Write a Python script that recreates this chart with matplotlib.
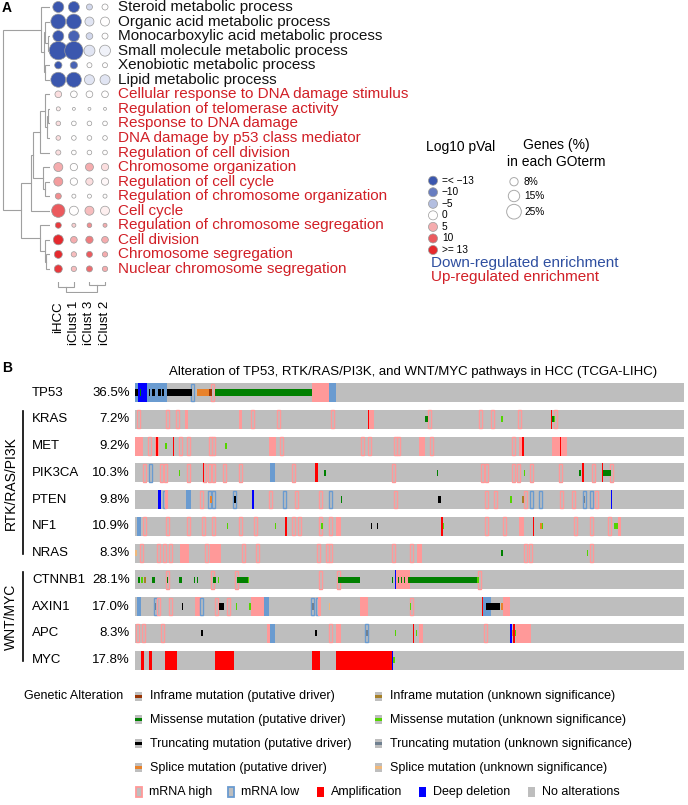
import numpy as np
import matplotlib
matplotlib.use("Agg")
import matplotlib.pyplot as plt
from matplotlib.colors import LinearSegmentedColormap, Normalize
from matplotlib.patches import Rectangle
from matplotlib.transforms import blended_transform_factory

plt.rcParams['font.family'] = ['Liberation Sans', 'DejaVu Sans']

# ------------------------------------------------------------------ Panel A data
go_terms = [
    "Steroid metabolic process", "Organic acid metabolic process",
    "Monocarboxylic acid metabolic process", "Small molecule metabolic process",
    "Xenobiotic metabolic process", "Lipid metabolic process",
    "Cellular response to DNA damage stimulus", "Regulation of telomerase activity",
    "Response to DNA damage", "DNA damage by p53 class mediator",
    "Regulation of cell division", "Chromosome organization",
    "Regulation of cell cycle", "Regulation of chromosome organization",
    "Cell cycle", "Regulation of chromosome segregation", "Cell division",
    "Chromosome segregation", "Nuclear chromosome segregation",
]
go_direction = ["down"] * 6 + ["up"] * 13
clusters = ["iHCC", "iClust 1", "iClust 3", "iClust 2"]

log10_pval = [
    [-13, -13, -3, 0], [-13, -13, -2, 0], [-13, -12, -3, 0], [-13, -13, -2, -1],
    [-13, -12, 0, 0], [-13, -13, -2, -2], [2, 0, 0, 0], [1, 0, 0, 0],
    [2, 0, 0, 0], [2, 0, 0, 0], [2, 0, 0, 0], [5, 0, 5, 2],
    [6, 0, 2, 0.5], [7, 0, 0, 0], [10, 0, 4, 1], [12, 3, 7, 5],
    [13, 5, 8, 5], [13, 4, 10, 5], [12, 4, 9, 5],
]
genes_pct = [
    [14, 14, 4.2, 4.2], [26, 26, 9.4, 9.4], [14, 14, 5.2, 4.2], [39, 39, 14, 14],
    [6.2, 6.2, 2.9, 2.9], [26, 26, 11.6, 11.6], [5.2, 5.2, 5.2, 5.2], [1.9, 1.0, 1.0, 1.0],
    [2.5, 2.5, 2.5, 2.5], [2.5, 2.5, 2.5, 2.5], [3.0, 2.5, 2.5, 2.5], [9.4, 6.2, 7.4, 6.2],
    [9.4, 6.2, 6.2, 6.2], [4.2, 1.9, 1.9, 1.9], [20.6, 9.4, 9.4, 9.4], [4.2, 1.9, 2.5, 1.9],
    [11.6, 5.2, 6.2, 5.2], [7.4, 3.3, 4.2, 3.3], [7.4, 3.3, 4.2, 3.3],
]
# merges (left id, right id, height); ids >= n are earlier merges
row_linkage = [
    (2, 3, 2.5), (1, 19, 5), (4, 5, 5), (20, 21, 6.5), (0, 22, 9.3),
    (7, 8, 2), (24, 9, 3), (6, 25, 5.5), (26, 10, 10), (12, 13, 5.5),
    (11, 28, 7.5), (27, 29, 17), (30, 14, 19.3), (17, 18, 4), (16, 32, 5.5),
    (15, 33, 10), (31, 34, 29.3), (23, 35, 46.7),
]
col_linkage = [(0, 1, 5), (2, 3, 3.3), (4, 5, 10)]

legend_pval_values = [-13, -10, -5, 0, 5, 10, 13]
legend_pval_labels = ["=< \u221213", "\u221210", "\u22125", "0", "5", "10", ">= 13"]
legend_size_values = [8, 15, 25]
legend_size_labels = ["8%", "15%", "25%"]

# ------------------------------------------------------------------ Panel B data
onco_title = "Alteration of TP53, RTK/RAS/PI3K, and WNT/MYC pathways in HCC (TCGA-LIHC)"
onco_genes = ["TP53", "KRAS", "MET", "PIK3CA", "PTEN", "NF1", "NRAS",
              "CTNNB1", "AXIN1", "APC", "MYC"]
onco_pct = ["36.5", "7.2", "9.2", "10.3", "9.8", "10.9", "8.3",
            "28.1", "17.0", "8.3", "17.8"]
n_samples = 366
# (first sample, number of samples, alteration code)
TP53_alt = [(0, 2, 'L'), (0, 2, 'T'), (2, 6, 'D'), (3, 1, 'M'), (8, 13, 'L'), (9, 1, 'T'),
            (11, 2, 'T'), (15, 2, 'T'), (18, 1, 'T'), (21, 17, 'T'), (38, 1, 'L'),
            (41, 8, 'S'), (49, 2, 'I'), (51, 1, 'H'), (53, 65, 'M'), (118, 11, 'H'),
            (129, 5, 'L')]
KRAS_alt = [(2, 1, 'H'), (21, 1, 'H'), (28, 1, 'H'), (33, 2, 'H'), (69, 2, 'H'), (78, 1, 'H'),
            (95, 1, 'H'), (131, 1, 'H'), (155, 4, 'H'), (155, 1, 'A'), (193, 2, 'M'),
            (196, 1, 'H'), (230, 1, 'H'), (238, 1, 'H'), (244, 1, 'm'), (256, 1, 'H'),
            (277, 1, 'A'), (278, 1, 'M'), (279, 1, 'm'), (280, 1, 'H')]
MET_alt = [(0, 5, 'H'), (9, 1, 'H'), (13, 3, 'H'), (14, 1, 'A'), (20, 1, 'm'), (25, 1, 'A'),
           (30, 1, 'H'), (35, 1, 'H'), (50, 1, 'H'), (52, 1, 'H'), (60, 1, 'm'), (89, 5, 'H'),
           (97, 1, 'H'), (151, 1, 'H'), (156, 1, 'H'), (173, 1, 'H'), (175, 1, 'H'),
           (189, 4, 'H'), (197, 1, 'H'), (252, 1, 'H'), (256, 3, 'H'), (258, 1, 'A'),
           (278, 10, 'H'), (283, 1, 'A')]
PIK3CA_alt = [(6, 1, 'H'), (10, 1, 'L'), (17, 1, 'H'), (20, 1, 'H'), (29, 1, 'm'), (35, 1, 'H'),
              (45, 1, 'A'), (46, 1, 'H'), (49, 1, 'H'), (52, 1, 'H'), (59, 1, 'H'), (70, 1, 'H'),
              (90, 3, 'L'), (105, 1, 'H'), (120, 2, 'A'), (126, 1, 'M'), (172, 1, 'H'),
              (201, 1, 'M'), (231, 1, 'H'), (234, 1, 'H'), (252, 1, 'H'), (255, 1, 'H'),
              (259, 1, 'm'), (264, 1, 'H'), (283, 1, 'H'), (296, 1, 'M'), (298, 1, 'A'),
              (305, 1, 'H'), (311, 1, 'A'), (312, 5, 'M'), (317, 1, 'H')]
PTEN_alt = [(15, 2, 'D'), (19, 1, 'L'), (20, 2, 'H'), (34, 3, 'L'), (44, 1, 'H'), (49, 1, 'L'),
            (50, 1, 'S'), (52, 1, 'L'), (66, 1, 'L'), (66, 1, 'T'), (78, 1, 'D'), (90, 1, 'H'),
            (99, 1, 'L'), (107, 1, 'H'), (123, 1, 'H'), (130, 1, 'L'), (137, 1, 'M'),
            (173, 1, 'H'), (202, 2, 'T'), (234, 1, 'H'), (240, 1, 'H'), (250, 1, 'm'),
            (258, 1, 'i'), (260, 1, 'H'), (264, 1, 'L'), (270, 1, 'L'), (284, 1, 'H'),
            (292, 1, 'H'), (299, 1, 'L'), (299, 1, 't'), (304, 1, 'L'), (307, 1, 'H'),
            (317, 1, 'D')]
NF1_alt = [(1, 3, 'L'), (6, 1, 'H'), (21, 1, 'H'), (35, 1, 'H'), (45, 1, 'H'), (52, 1, 'H'),
           (61, 1, 'm'), (70, 1, 'H'), (80, 1, 'H'), (93, 1, 'm'), (100, 1, 'A'), (105, 1, 'H'),
           (109, 1, 'H'), (123, 1, 'H'), (124, 1, 'm'), (130, 1, 'H'), (134, 3, 'H'),
           (157, 1, 'T'), (161, 1, 'T'), (204, 1, 'A'), (205, 1, 'm'), (234, 1, 'H'),
           (246, 1, 'H'), (256, 3, 'H'), (265, 1, 'A'), (270, 1, 'S'), (271, 1, 'm'),
           (293, 1, 'H'), (304, 1, 'H'), (316, 1, 'H'), (319, 3, 'm'), (322, 2, 'H')]
NRAS_alt = [(0, 1, 's'), (4, 1, 'H'), (15, 1, 'H'), (19, 1, 'H'), (23, 1, 'H'), (30, 6, 'H'),
            (47, 1, 'H'), (50, 7, 'H'), (72, 1, 'H'), (81, 1, 'H'), (122, 1, 'H'), (128, 1, 'H'),
            (130, 1, 'H'), (172, 1, 'H'), (184, 1, 'H'), (188, 3, 'H'), (244, 1, 'M'),
            (260, 1, 'H'), (263, 1, 'H'), (301, 1, 'm'), (304, 1, 'H')]
CTNNB1_alt = [(2, 1, 'M'), (4, 1, 'm'), (6, 1, 'i'), (11, 2, 'M'), (21, 1, 'H'), (21, 1, 'M'),
              (29, 2, 'M'), (39, 1, 'M'), (41, 1, 'M'), (51, 1, 'H'), (52, 2, 'M'), (55, 1, 'm'),
              (67, 1, 'H'), (68, 7, 'M'), (75, 1, 'm'), (123, 1, 'H'), (135, 1, 'H'),
              (135, 15, 'M'), (171, 1, 'M'), (173, 1, 'D'), (174, 9, 'H'), (175, 1, 'M'),
              (177, 1, 'M'), (179, 1, 'M'), (182, 46, 'M'), (228, 1, 'm'), (229, 1, 'H')]
AXIN1_alt = [(1, 3, 'L'), (13, 1, 'L'), (13, 1, 't'), (15, 1, 'H'), (23, 1, 'H'), (31, 1, 'T'),
             (40, 4, 'H'), (44, 1, 'L'), (54, 1, 'H'), (56, 3, 'T'), (62, 1, 'H'), (67, 1, 'm'),
             (76, 1, 'm'), (77, 9, 'H'), (86, 3, 'L'), (118, 1, 'L'), (118, 1, 't'),
             (121, 1, 'L'), (122, 2, 'H'), (129, 1, 's'), (150, 5, 'H'), (183, 1, 'm'),
             (184, 1, 'H'), (231, 1, 'A'), (232, 5, 'L'), (234, 9, 'T'), (244, 1, 'S'),
             (245, 5, 'H')]
APC_alt = [(1, 1, 'H'), (5, 1, 'H'), (18, 1, 'H'), (44, 1, 'T'), (88, 2, 'H'), (90, 3, 'L'),
           (120, 1, 'T'), (130, 1, 'H'), (134, 3, 'H'), (154, 1, 'L'), (154, 1, 't'),
           (173, 1, 'm'), (185, 1, 'A'), (187, 1, 'm'), (189, 3, 'H'), (233, 1, 'H'),
           (250, 1, 'D'), (251, 1, 'S'), (252, 1, 'A'), (253, 1, 'm'), (254, 10, 'H')]
MYC_alt = [(4, 2, 'A'), (9, 2, 'A'), (20, 8, 'A'), (53, 13, 'A'), (118, 5, 'A'),
           (134, 37, 'A'), (171, 1, 'D'), (172, 1, 'm')]
onco_groups = [("RTK/RAS/PI3K", 1, 6), ("WNT/MYC", 7, 10)]

legend_mut_rows = [
    ('I', "Inframe mutation (putative driver)", 'i', "Inframe mutation (unknown significance)"),
    ('M', "Missense mutation (putative driver)", 'm', "Missense mutation (unknown significance)"),
    ('T', "Truncating mutation (putative driver)", 't', "Truncating mutation (unknown significance)"),
    ('S', "Splice mutation (putative driver)", 's', "Splice mutation (unknown significance)"),
]
legend_other = [('H', "mRNA high"), ('L', "mRNA low"), ('A', "Amplification"),
                ('D', "Deep deletion"), ('N', "No alterations")]

# ------------------------------------------------------------------ styles
ALT_COL = {'H': '#FF9999', 'L': '#6A9BD0', 'A': '#FF0000', 'D': '#0000FF',
           'M': '#008000', 'm': '#53D400', 'T': '#000000', 't': '#708090',
           'S': '#E8822B', 's': '#F0B87B', 'I': '#993404', 'i': '#A68028', 'N': '#BEBEBE'}
GRAY = '#BEBEBE'
RED_TXT = '#D11F26'
BLUE_TXT = '#2F4FA0'
cmap = LinearSegmentedColormap.from_list('go', ['#3B57AE', '#FFFFFF', '#E52A2E'])
norm = Normalize(-13, 13)
SIZE_K = 4.47

W, H = 688, 805
fig = plt.figure(figsize=(W / 100, H / 100), dpi=100)


def px_axes(left, top, width, height):
    return fig.add_axes([left / W, 1 - (top + height) / H, width / W, height / H])


ov = px_axes(0, 0, W, H)
ov.set_xlim(0, W)
ov.set_ylim(H, 0)
ov.axis('off')

# ------------------------------------------------------------------ Panel A
row_px0, row_step = 7.0, 14.55
col_px0, col_step = 58.3, 15.57
n_rows, n_cols = len(go_terms), len(clusters)

ax_dot = px_axes(col_px0 - col_step / 2, row_px0 - row_step / 2, col_step * n_cols, row_step * n_rows)
ax_dot.set_xlim(-0.5, n_cols - 0.5)
ax_dot.set_ylim(n_rows - 0.5, -0.5)
ax_dot.axis('off')
P = np.array(log10_pval, dtype=float)
G = np.array(genes_pct, dtype=float)
xx, yy = np.meshgrid(np.arange(n_cols), np.arange(n_rows))
ax_dot.scatter(xx.ravel(), yy.ravel(), s=SIZE_K * G.ravel(), c=P.ravel(), cmap=cmap, norm=norm,
               edgecolors='#9A9A9A', linewidths=0.5, clip_on=False, zorder=3)
for i, term in enumerate(go_terms):
    ax_dot.text(3.85, i, term, fontsize=11, va='center', ha='left',
                color='#111111' if go_direction[i] == 'down' else RED_TXT, clip_on=False)


def draw_dendro(ax, merges, n, vertical_pos):
    pos = list(range(n))
    hts = [0.0] * n
    for a, b, h in merges:
        pa, pb, ha, hb = pos[a], pos[b], hts[a], hts[b]
        if vertical_pos:
            ax.plot([ha, h, h, hb], [pa, pa, pb, pb], color='#A0A0A0', lw=0.8, solid_joinstyle='miter')
        else:
            ax.plot([pa, pa, pb, pb], [ha, h, h, hb], color='#A0A0A0', lw=0.8, solid_joinstyle='miter')
        pos.append((pa + pb) / 2)
        hts.append(h)


ax_rd = px_axes(0, row_px0 - row_step / 2, 50, row_step * n_rows)
ax_rd.set_xlim(50, 0)
ax_rd.set_ylim(n_rows - 0.5, -0.5)
ax_rd.axis('off')
draw_dendro(ax_rd, row_linkage, n_rows, True)

ax_cd = px_axes(col_px0 - col_step / 2, 281.7, col_step * n_cols, 11)
ax_cd.set_xlim(-0.5, n_cols - 0.5)
ax_cd.set_ylim(11, 0)
ax_cd.axis('off')
draw_dendro(ax_cd, col_linkage, n_cols, False)

tr_col = blended_transform_factory(ax_dot.transData, ov.transData)
for j, c in enumerate(clusters):
    ov.text(j, 301, c, transform=tr_col, rotation=90, ha='center', va='top', fontsize=9.5)

# legend A
ov.text(461, 147, "Log10 pVal", ha='center', va='center', fontsize=10)
ov.text(556, 145, "Genes (%)", ha='center', va='center', fontsize=10)
ov.text(556, 162, "in each GOterm", ha='center', va='center', fontsize=10)
ly = 180.7 + 11.55 * np.arange(len(legend_pval_values))
ov.scatter(np.full(len(ly), 433.0), ly, s=SIZE_K * 9.5, c=legend_pval_values, cmap=cmap, norm=norm,
           edgecolors='#9A9A9A', linewidths=0.5)
for yv, lab in zip(ly, legend_pval_labels):
    ov.text(442, yv, lab, fontsize=7.3, va='center', ha='left')
sy = [181.7, 196.0, 211.7]
ov.scatter(np.full(3, 514.0), sy, s=SIZE_K * np.array(legend_size_values), facecolors='white',
           edgecolors='#AAAAAA', linewidths=0.7)
for yv, lab in zip(sy, legend_size_labels):
    ov.text(524, yv, lab, fontsize=7.3, va='center', ha='left')
ov.text(431, 263, "Down-regulated enrichment", color=BLUE_TXT, fontsize=11, va='center', ha='left')
ov.text(431, 277, "Up-regulated enrichment", color=RED_TXT, fontsize=11, va='center', ha='left')

ov.text(2, 8, "A", fontsize=10, fontweight='bold', va='center', ha='left')
ov.text(2, 367.5, "B", fontsize=10, fontweight='bold', va='center', ha='left')

# ------------------------------------------------------------------ Panel B
onco_events = [TP53_alt, KRAS_alt, MET_alt, PIK3CA_alt, PTEN_alt, NF1_alt, NRAS_alt,
               CTNNB1_alt, AXIN1_alt, APC_alt, MYC_alt]
row0_px, row_gap, bar_px = 392.5, 26.75, 19.0
n_genes = len(onco_genes)
BAR_H = bar_px / row_gap
ax_on = px_axes(135, row0_px - row_gap / 2, 549, row_gap * n_genes)
ax_on.set_xlim(0, n_samples)
ax_on.set_ylim(n_genes - 0.5, -0.5)
ax_on.axis('off')
ax_on.barh(np.arange(n_genes), n_samples, left=0, height=BAR_H, color=GRAY, zorder=1)

for r, events in enumerate(onco_events):
    for s, L, code in events:
        if code in 'HL':
            col = ALT_COL[code]
            if L >= 2:
                ax_on.add_patch(Rectangle((s, r - BAR_H / 2), L, BAR_H, facecolor=col,
                                          edgecolor='none', zorder=2))
            else:
                ax_on.add_patch(Rectangle((s - 0.45, r - BAR_H / 2 + 0.025), L + 0.9, BAR_H - 0.05,
                                          facecolor='none', edgecolor=col, lw=1.0, zorder=2))
    for s, L, code in events:
        if code in 'AD':
            ax_on.add_patch(Rectangle((s, r - BAR_H / 2), L, BAR_H, facecolor=ALT_COL[code],
                                      edgecolor='none', zorder=3))
    for s, L, code in events:
        if code in 'MmTtSsIi':
            ax_on.add_patch(Rectangle((s, r - BAR_H / 6), L, BAR_H / 3, facecolor=ALT_COL[code],
                                      edgecolor='none', zorder=4))

tr_gene = blended_transform_factory(ov.transData, ax_on.transData)
for r, (g, p) in enumerate(zip(onco_genes, onco_pct)):
    ov.text(32, r, g, transform=tr_gene, ha='left', va='center', fontsize=9.5)
    ov.text(130, r, p + "%", transform=tr_gene, ha='right', va='center', fontsize=9.5)
for name, r0, r1 in onco_groups:
    ov.plot([23, 23], [r0 - 0.3, r1 + 0.05], transform=tr_gene, color='black', lw=1.2)
    ov.text(11, (r0 + r1) / 2 - 0.1, name, transform=tr_gene, rotation=90, ha='center',
            va='center', fontsize=10)

ov.text(413, 371.7, onco_title, ha='center', va='center', fontsize=9.5)

# legend B


def swatch(x, y, code):
    if code in 'MmTtSsIi':
        ov.add_patch(Rectangle((x, y - 4.5), 7, 9, facecolor=GRAY, edgecolor='none'))
        ov.add_patch(Rectangle((x, y - 1.5), 7, 3, facecolor=ALT_COL[code], edgecolor='none'))
    elif code in 'HL':
        ov.add_patch(Rectangle((x + 0.6, y - 5), 6, 10, facecolor=GRAY, edgecolor=ALT_COL[code], lw=1.3))
    else:
        ov.add_patch(Rectangle((x, y - 5), 7, 10, facecolor=ALT_COL[code], edgecolor='none'))


LFS = 9
ov.text(24.5, 696, "Genetic Alteration", fontsize=LFS, va='center', ha='left')
leg_rows_y = [696, 719.5, 743.5, 767.5]
for yv, (c1, t1, c2, t2) in zip(leg_rows_y, legend_mut_rows):
    swatch(135, yv, c1)
    ov.text(149.5, yv, t1, fontsize=LFS, va='center', ha='left')
    swatch(375, yv, c2)
    ov.text(389.5, yv, t2, fontsize=LFS, va='center', ha='left')
other_x = [135, 227, 316.5, 419, 528]
for xv, (code, lab) in zip(other_x, legend_other):
    swatch(xv, 791.7, code)
    ov.text(xv + 14, 791.7, lab, fontsize=LFS, va='center', ha='left')

fig.savefig("out.png", dpi=100)
